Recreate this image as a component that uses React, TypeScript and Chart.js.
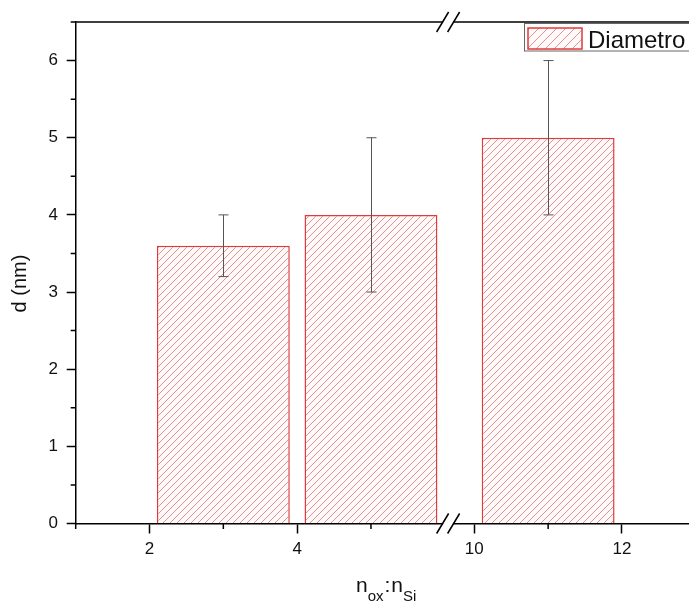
import React, { useEffect, useRef } from 'react';
import { Chart, registerables } from 'chart.js';

Chart.register(...registerables);

// ---------- data ----------
const SERIES_LABEL = 'Diametro';
const RATIOS = [3, 5, 11]; // n_ox : n_Si
const DIAMETERS = [3.6, 4.0, 5.0]; // d (nm)
const ERR_LOW = [3.2, 3.0, 4.0];
const ERR_HIGH = [4.0, 5.0, 6.0];
const X_TICKS = [2, 4, 10, 12];
const X_MINOR = [1, 3, 5, 11, 13];
const Y_TICKS = [0, 1, 2, 3, 4, 5, 6];
const Y_MINOR = [0.5, 1.5, 2.5, 3.5, 4.5, 5.5, 6.5];

// ---------- broken-axis mapping ----------
const BREAK_DISP = 6.045; // display coordinate of the axis break
const RIGHT_SHIFT = 3.6; // right segment is shifted left by this amount
const disp = (x: number) => (x <= BREAK_DISP ? x : x - RIGHT_SHIFT);
const real = (d: number) => (d <= BREAK_DISP ? d : d + RIGHT_SHIFT);

const FONT = '"Liberation Sans", Arial, sans-serif';

function makeHatch(s: number): CanvasPattern | string {
  const c = document.createElement('canvas');
  c.width = s;
  c.height = s;
  const g = c.getContext('2d');
  if (!g) return '#fbe6e6';
  g.fillStyle = '#fff9f9';
  g.fillRect(0, 0, s, s);
  g.strokeStyle = '#de9494';
  g.lineWidth = 1;
  g.beginPath();
  g.moveTo(0, s);
  g.lineTo(s, 0);
  g.moveTo(-1, 1);
  g.lineTo(1, -1);
  g.moveTo(s - 1, s + 1);
  g.lineTo(s + 1, s - 1);
  g.stroke();
  const p = g.createPattern(c, 'repeat');
  return p || '#fbe6e6';
}

export default function App() {
  const ref = useRef<HTMLCanvasElement | null>(null);

  useEffect(() => {
    if (!ref.current) return;
    const hatch = makeHatch(7);
    const legendHatch = makeHatch(9);
    Chart.defaults.font.family = FONT;

    const extras = {
      id: 'extras',
      afterDatasetsDraw(chart: any) {
        const { ctx } = chart;
        const ys = chart.scales.y;
        const meta = chart.getDatasetMeta(0);
        ctx.save();
        ctx.strokeStyle = '#555';
        ctx.lineWidth = 1;
        meta.data.forEach((bar: any, i: number) => {
          const x = Math.round(bar.x) + 0.5;
          const y1 = ys.getPixelForValue(ERR_LOW[i]);
          const y2 = ys.getPixelForValue(ERR_HIGH[i]);
          ctx.beginPath();
          ctx.moveTo(x, y1);
          ctx.lineTo(x, y2);
          ctx.moveTo(x - 5, y1);
          ctx.lineTo(x + 5, y1);
          ctx.moveTo(x - 5, y2);
          ctx.lineTo(x + 5, y2);
          ctx.stroke();
        });
        ctx.restore();
      },
      afterDraw(chart: any) {
        const { ctx, chartArea } = chart;
        const xs = chart.scales.x;
        const ys = chart.scales.y;
        const { left, right, top, bottom } = chartArea;
        ctx.save();
        ctx.strokeStyle = '#000';
        ctx.lineWidth = 1.5;
        // top frame
        ctx.beginPath();
        ctx.moveTo(left, top);
        ctx.lineTo(right, top);
        ctx.stroke();
        // minor ticks
        ctx.beginPath();
        Y_MINOR.forEach((v) => {
          const y = ys.getPixelForValue(v);
          ctx.moveTo(left - 5, y);
          ctx.lineTo(left, y);
        });
        X_MINOR.forEach((v) => {
          const x = xs.getPixelForValue(disp(v));
          if (x < left - 1 || x > right) return;
          ctx.moveTo(x, bottom);
          ctx.lineTo(x, bottom + 5.5);
        });
        ctx.stroke();

        // axis breaks
        const bx = xs.getPixelForValue(BREAK_DISP);
        [top, bottom].forEach((yy) => {
          ctx.fillStyle = '#fff';
          ctx.fillRect(bx - 5, yy - 2, 10, 4);
          ctx.beginPath();
          ctx.lineWidth = 1.5;
          [-5.5, 5.5].forEach((o) => {
            ctx.moveTo(bx + o - 6, yy + 10);
            ctx.lineTo(bx + o + 6, yy - 10);
          });
          ctx.stroke();
        });

        // legend
        const lx = 524;
        const ly = 23;
        ctx.fillStyle = '#fff';
        ctx.fillRect(lx, ly, 300, 27.5);
        ctx.strokeStyle = '#666';
        ctx.lineWidth = 1;
        ctx.strokeRect(lx + 0.5, ly + 0.5, 300, 27.5);
        ctx.fillStyle = legendHatch as any;
        ctx.fillRect(528, 28, 54, 21);
        ctx.strokeStyle = '#e03a3a';
        ctx.lineWidth = 1.5;
        ctx.strokeRect(528, 28, 54, 21);
        ctx.fillStyle = '#111';
        ctx.font = `24px ${FONT}`;
        ctx.textAlign = 'left';
        ctx.textBaseline = 'alphabetic';
        ctx.fillText(SERIES_LABEL, 588, 47.5);

        // y title
        ctx.save();
        ctx.translate(20, 283.5);
        ctx.rotate(-Math.PI / 2);
        ctx.font = `20px ${FONT}`;
        ctx.textAlign = 'center';
        ctx.textBaseline = 'middle';
        ctx.fillText('d (nm)', 0, 0);
        ctx.restore();

        // x title  n_ox : n_Si
        const base = 592;
        const subBase = 601;
        let x = 356;
        const big = `21px ${FONT}`;
        const small = `15px ${FONT}`;
        const put = (t: string, f: string, b: number, gap = 0) => {
          ctx.font = f;
          ctx.fillText(t, x, b);
          x += ctx.measureText(t).width + gap;
        };
        ctx.textAlign = 'left';
        ctx.textBaseline = 'alphabetic';
        put('n', big, base);
        put('ox', small, subBase, 1);
        put(':', big, base, 1);
        put('n', big, base);
        put('Si', small, subBase);
        ctx.restore();
      },
    };

    const chart = new Chart(ref.current, {
      type: 'bar',
      data: {
        datasets: [
          {
            label: SERIES_LABEL,
            data: RATIOS.map((r, i) => ({ x: disp(r), y: DIAMETERS[i] })),
            backgroundColor: hatch as any,
            borderColor: '#e03a3a',
            borderWidth: 1.5,
            borderSkipped: 'bottom',
            barPercentage: 0.9,
            categoryPercentage: 1.0,
          },
        ],
      },
      options: {
        animation: false,
        responsive: false,
        layout: { padding: { top: 22, left: 0, right: 0, bottom: 0 } },
        plugins: { legend: { display: false }, tooltip: { enabled: false } },
        scales: {
          x: {
            type: 'linear',
            min: 1,
            max: 10.27,
            offset: false,
            afterBuildTicks: (s: any) => {
              s.ticks = X_TICKS.map((v) => ({ value: disp(v) }));
            },
            afterFit: (s: any) => {
              s.height = 80.5;
            },
            ticks: {
              autoSkip: false,
              maxRotation: 0,
              padding: 6,
              color: '#111',
              font: { size: 17, family: FONT },
              callback: (v: any) => String(Math.round(real(Number(v)))),
            },
            grid: {
              display: true,
              offset: false,
              drawOnChartArea: false,
              drawTicks: true,
              tickLength: 10,
              tickColor: '#000',
              tickWidth: 1.5,
            },
            border: { display: true, color: '#000', width: 1.5 },
          },
          y: {
            type: 'linear',
            min: 0,
            max: 6.5,
            afterBuildTicks: (s: any) => {
              s.ticks = Y_TICKS.map((v) => ({ value: v }));
            },
            afterFit: (s: any) => {
              s.width = 75.7;
            },
            ticks: {
              padding: 8.7,
              color: '#111',
              font: { size: 17, family: FONT },
              callback: (v: any) => String(v),
            },
            grid: {
              display: true,
              drawOnChartArea: false,
              drawTicks: true,
              tickLength: 9,
              tickColor: '#000',
              tickWidth: 1.5,
            },
            border: { display: true, color: '#000', width: 1.5 },
          },
        },
      },
      plugins: [extras],
    } as any);

    return () => chart.destroy();
  }, []);

  return (
    <div
      style={{
        position: 'fixed',
        left: 0,
        top: 0,
        width: 689,
        height: 604,
        overflow: 'hidden',
        background: '#fff',
      }}
    >
      <canvas ref={ref} width={760} height={604} style={{ display: 'block' }} />
    </div>
  );
}
